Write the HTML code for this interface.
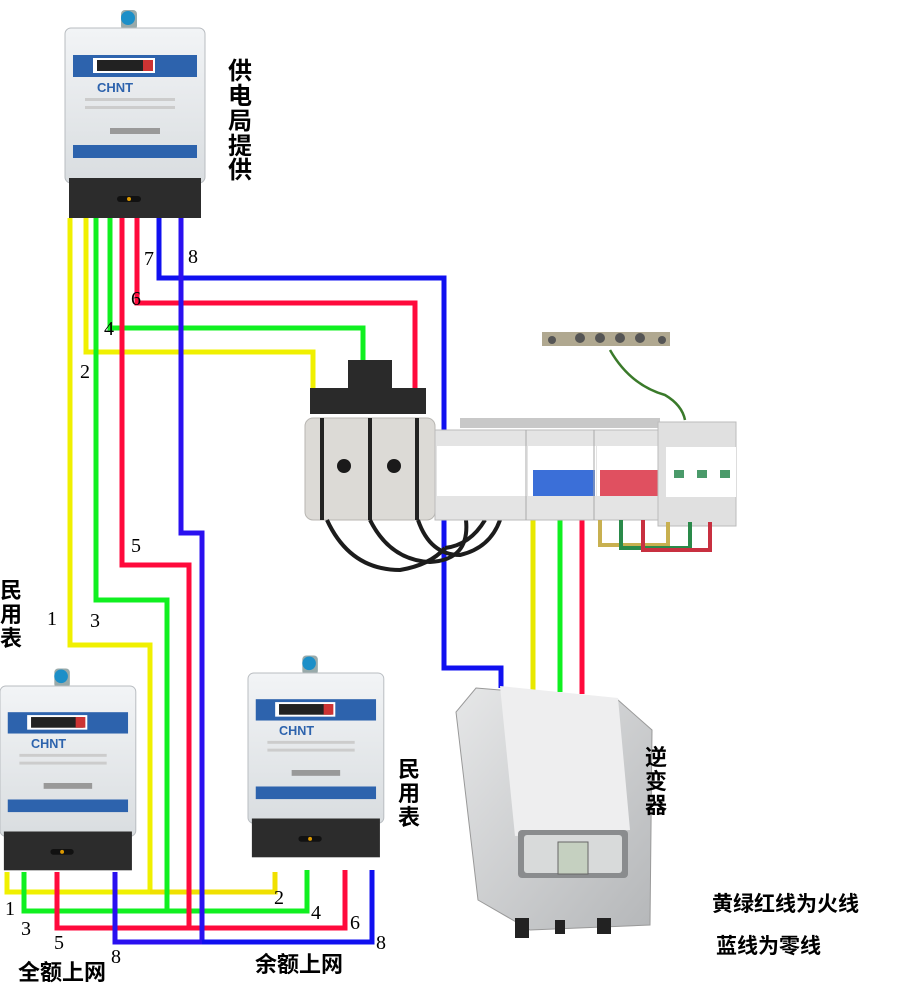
<!DOCTYPE html>
<html><head><meta charset="utf-8"><style>
html,body{margin:0;padding:0;background:#fff}
svg{display:block}
.n{font-family:"Liberation Serif",serif;font-size:20px;fill:#000}
.c{font-family:"Liberation Sans","Noto Sans CJK SC",sans-serif;font-weight:bold;fill:#000}
</style></head><body>
<svg width="900" height="1000" viewBox="0 0 900 1000" xmlns="http://www.w3.org/2000/svg">
<defs>
<linearGradient id="mg" x1="0" y1="0" x2="0" y2="1"><stop offset="0" stop-color="#f2f4f6"/><stop offset="1" stop-color="#d9dde0"/></linearGradient>
<linearGradient id="ig" x1="0" y1="0" x2="1" y2="1"><stop offset="0" stop-color="#e6e7e8"/><stop offset="1" stop-color="#b5b7b9"/></linearGradient>
<g id="meter">
<rect x="56" y="-18" width="16" height="20" rx="4" fill="#9aa"/>
<circle cx="63" cy="-10" r="7" fill="#1c8fc8"/>
<rect x="0" y="0" width="140" height="155" rx="6" fill="url(#mg)" stroke="#b8bcc0"/>
<rect x="8" y="27" width="124" height="22" fill="#2d63ad"/>
<rect x="28" y="30" width="62" height="15" fill="#fff"/>
<rect x="32" y="32" width="54" height="11" fill="#222"/>
<rect x="78" y="32" width="10" height="11" fill="#c33"/>
<text x="32" y="64" font-family="Liberation Sans" font-weight="bold" font-size="13" fill="#2d63ad">CHNT</text>
<rect x="20" y="70" width="90" height="3" fill="#ccc"/>
<rect x="20" y="78" width="90" height="3" fill="#ccc"/>
<rect x="45" y="100" width="50" height="6" fill="#999"/>
<rect x="8" y="117" width="124" height="13" fill="#2d63ad"/>
<rect x="4" y="150" width="132" height="40" fill="#2c2c2c"/>
<rect x="52" y="168" width="24" height="6" rx="3" fill="#111"/>
<circle cx="64" cy="171" r="2" fill="#d90"/>
</g>
</defs>

<!-- wires -->
<g fill="none" stroke-width="5">
<polyline stroke="#f0f000" points="70,218 70,645 150,645 150,892 7,892 7,872"/>
<polyline stroke="#f0e000" points="150,892 275,892 275,872"/>
<polyline stroke="#f0f000" points="86,218 86,352 313,352 313,390"/>
<polyline stroke="#10f020" points="96,218 96,600 167,600 167,911 24,911 24,872"/>
<polyline stroke="#10f020" points="167,911 307,911 307,870"/>
<polyline stroke="#10f020" points="110,218 110,328 363,328 363,362"/>
<polyline stroke="#ff0a3c" points="122,218 122,565 189,565 189,928 57,928 57,872"/>
<polyline stroke="#ff0a3c" points="189,928 345,928 345,870"/>
<polyline stroke="#ff0a3c" points="137,218 137,303 415,303 415,392"/>
<polyline stroke="#1010f0" points="159,218 159,278 444,278 444,432"/>
<polyline stroke="#1010f0" points="444,518 444,668 501,668 501,688"/>
<polyline stroke="#2a10f0" points="181,218 181,533 202,533 202,942 115,942 115,872"/>
<polyline stroke="#1010f0" points="202,942 372,942 372,870"/>
<line stroke="#e8e800" x1="533" y1="520" x2="533" y2="692"/>
<line stroke="#10f020" x1="560" y1="520" x2="560" y2="692"/>
<line stroke="#ff0a3c" x1="582" y1="518" x2="582" y2="694"/>
</g>

<!-- meters -->
<use href="#meter" transform="translate(65,28)"/>
<use href="#meter" transform="translate(0,686) scale(0.97)"/>
<use href="#meter" transform="translate(248,673) scale(0.97)"/>

<!-- breaker assembly -->
<rect x="348" y="360" width="44" height="34" fill="#2a2a2a"/>
<rect x="310" y="388" width="116" height="26" fill="#2a2a2a"/>
<rect x="305" y="418" width="130" height="102" rx="8" fill="#dcdad6" stroke="#b8b6b2"/>
<line x1="322" y1="418" x2="322" y2="520" stroke="#222" stroke-width="4"/>
<line x1="370" y1="418" x2="370" y2="520" stroke="#222" stroke-width="4"/>
<line x1="417" y1="418" x2="417" y2="520" stroke="#222" stroke-width="4"/>
<circle cx="344" cy="466" r="7" fill="#1a1a1a"/>
<circle cx="394" cy="466" r="7" fill="#1a1a1a"/>
<g fill="none" stroke="#1c1c1c" stroke-width="4">
<path d="M327,520 Q350,570 400,570 Q430,565 445,548"/>
<path d="M370,520 Q390,560 430,562 Q470,560 466,520"/>
<path d="M418,520 Q430,555 460,555 Q490,548 500,520"/>
<path d="M445,548 Q470,545 485,520"/>
</g>
<rect x="460" y="418" width="200" height="10" fill="#c8c8c8"/>
<rect x="435" y="430" width="225" height="90" fill="#e4e4e4" stroke="#bbb"/>
<rect x="437" y="446" width="90" height="50" fill="#fff"/>
<rect x="528" y="446" width="68" height="50" fill="#fff"/>
<rect x="597" y="446" width="66" height="50" fill="#fff"/>
<rect x="533" y="470" width="62" height="26" fill="#3b6fd8"/>
<rect x="600" y="470" width="64" height="26" fill="#e05060"/>
<line x1="526" y1="430" x2="526" y2="520" stroke="#aaa"/>
<line x1="594" y1="430" x2="594" y2="520" stroke="#aaa"/>
<rect x="658" y="422" width="78" height="104" fill="#e0e0e0" stroke="#bbb"/>
<rect x="666" y="447" width="70" height="50" fill="#fff"/>
<rect x="674" y="470" width="10" height="8" fill="#4a9a6a"/>
<rect x="697" y="470" width="10" height="8" fill="#4a9a6a"/>
<rect x="720" y="470" width="10" height="8" fill="#4a9a6a"/>
<g fill="none" stroke-width="4">
<path d="M600,520 L600,545 L668,545 L668,522" stroke="#c8b050"/>
<path d="M621,520 L621,548 L690,548 L690,522" stroke="#2a8a4a"/>
<path d="M643,520 L643,550 L710,550 L710,522" stroke="#c83040"/>
</g>
<rect x="542" y="332" width="128" height="14" fill="#b0a890"/>
<g fill="#555"><circle cx="552" cy="340" r="4"/><circle cx="580" cy="338" r="5"/><circle cx="600" cy="338" r="5"/><circle cx="620" cy="338" r="5"/><circle cx="640" cy="338" r="5"/><circle cx="662" cy="340" r="4"/></g>
<path d="M610,350 Q630,385 665,395 Q682,405 685,420" fill="none" stroke="#3a7a2a" stroke-width="2.5"/>

<!-- inverter -->
<path d="M476,688 L618,700 L652,730 L650,925 L530,930 L478,900 L456,712 Z" fill="url(#ig)" stroke="#999"/>
<path d="M500,686 L618,698 L630,830 L515,836 Z" fill="#eeeeef"/>
<rect x="518" y="830" width="110" height="48" rx="4" fill="#8a8c8e"/>
<rect x="524" y="835" width="98" height="38" rx="3" fill="#d8dada"/>
<rect x="558" y="842" width="30" height="32" fill="#c5d0c0" stroke="#666"/>
<rect x="515" y="918" width="14" height="20" fill="#222"/>
<rect x="555" y="920" width="10" height="14" fill="#222"/>
<rect x="597" y="918" width="14" height="16" fill="#222"/>

<!-- labels -->
<g class="n">
<text x="144" y="265">7</text><text x="188" y="263">8</text>
<text x="131" y="305">6</text><text x="104" y="335">4</text>
<text x="80" y="378">2</text><text x="131" y="552">5</text>
<text x="47" y="625">1</text><text x="90" y="627">3</text>
<text x="5" y="915">1</text><text x="21" y="935">3</text>
<text x="54" y="949">5</text><text x="111" y="963">8</text>
<text x="274" y="904">2</text><text x="311" y="919">4</text>
<text x="350" y="929">6</text><text x="376" y="949">8</text>
</g>
<g class="c" font-size="24">
<text x="228" y="79">供</text><text x="228" y="104">电</text><text x="228" y="129">局</text><text x="228" y="154">提</text><text x="228" y="178">供</text>
</g>
<g class="c" font-size="22">
<text x="0" y="598">民</text><text x="0" y="622">用</text><text x="0" y="646">表</text>
<text x="398" y="777">民</text><text x="398" y="801">用</text><text x="398" y="825">表</text>
<text x="645" y="765">逆</text><text x="645" y="789">变</text><text x="645" y="813">器</text>
<text x="18" y="980">全额上网</text>
<text x="255" y="972">余额上网</text>
<text x="712" y="911" font-size="21">黄绿红线为火线</text>
<text x="716" y="953" font-size="21">蓝线为零线</text>
</g>
</svg>
</body></html>
